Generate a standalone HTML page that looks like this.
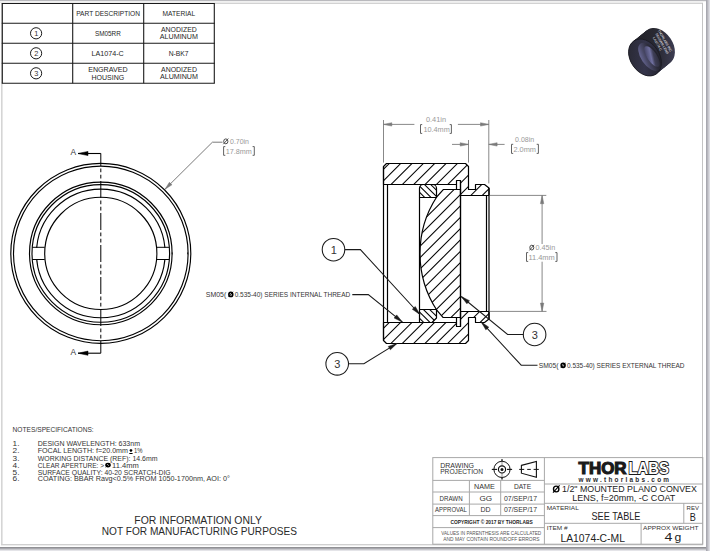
<!DOCTYPE html>
<html><head><meta charset="utf-8"><style>
html,body{margin:0;padding:0;background:#fff;width:710px;height:551px;overflow:hidden}
svg{display:block}
text{font-family:"Liberation Sans",sans-serif}
</style></head><body>
<svg width="710" height="551" viewBox="0 0 710 551">
<rect x="0" y="0" width="710" height="551" fill="#fff"/>
<rect x="0" y="0" width="710" height="1" fill="#b9b9bd"/>
<rect x="0" y="1" width="710" height="1" fill="#f0f0f0"/>
<rect x="0" y="2" width="703" height="1" fill="#ececec"/>
<rect x="1" y="3" width="702" height="1" fill="#d2d2d2"/>
<rect x="1" y="3" width="1" height="542" fill="#d5d5d5"/>
<rect x="2" y="3" width="1" height="542" fill="#e6e6e6"/>
<rect x="702" y="3" width="1" height="542" fill="#c4c4c4"/>
<rect x="1" y="544" width="702" height="1" fill="#d0d0d0"/>
<rect x="1" y="545" width="702" height="1" fill="#eeeeee"/>
<rect x="706" y="0" width="1" height="551" fill="#a8a8b0"/>
<rect x="707" y="0" width="1" height="551" fill="#b8b8be"/>
<rect x="708" y="0" width="1" height="551" fill="#cacad0"/>
<rect x="709" y="0" width="1" height="551" fill="#dcdce2"/>
<rect x="0" y="547" width="706" height="1" fill="#909094"/>
<rect x="0" y="548" width="706" height="1" fill="#a8a8ae"/>
<rect x="0" y="549" width="706" height="1" fill="#c8c8cc"/>
<rect x="0" y="550" width="706" height="1" fill="#e4e4e8"/>
<line x1="1.8" y1="3.5" x2="214.8" y2="3.5" stroke="#1a1a1a" stroke-width="1.1"/>
<line x1="1.8" y1="23.3" x2="214.8" y2="23.3" stroke="#1a1a1a" stroke-width="1.1"/>
<line x1="1.8" y1="43.2" x2="214.8" y2="43.2" stroke="#1a1a1a" stroke-width="1.1"/>
<line x1="1.8" y1="63.3" x2="214.8" y2="63.3" stroke="#1a1a1a" stroke-width="1.1"/>
<line x1="1.8" y1="83.2" x2="214.8" y2="83.2" stroke="#1a1a1a" stroke-width="1.1"/>
<line x1="2.3" y1="3.5" x2="2.3" y2="83.2" stroke="#1a1a1a" stroke-width="1.1"/>
<line x1="72.7" y1="3.5" x2="72.7" y2="83.2" stroke="#1a1a1a" stroke-width="1.1"/>
<line x1="143.7" y1="3.5" x2="143.7" y2="83.2" stroke="#1a1a1a" stroke-width="1.1"/>
<line x1="214.3" y1="3.5" x2="214.3" y2="83.2" stroke="#1a1a1a" stroke-width="1.1"/>
<text x="76.2" y="16.0" font-size="7.2" fill="#262626" font-weight="normal" textLength="63.8" lengthAdjust="spacingAndGlyphs" >PART DESCRIPTION</text>
<text x="162.5" y="16.0" font-size="7.2" fill="#262626" font-weight="normal" textLength="32.7" lengthAdjust="spacingAndGlyphs" >MATERIAL</text>
<text x="94.9" y="36.0" font-size="7.2" fill="#262626" font-weight="normal" textLength="25.9" lengthAdjust="spacingAndGlyphs" >SM05RR</text>
<text x="161" y="32.4" font-size="7.2" fill="#262626" font-weight="normal" textLength="35.8" lengthAdjust="spacingAndGlyphs" >ANODIZED</text>
<text x="159.8" y="39.2" font-size="7.2" fill="#262626" font-weight="normal" textLength="38.1" lengthAdjust="spacingAndGlyphs" >ALUMINUM</text>
<text x="91.5" y="56.0" font-size="7.2" fill="#262626" font-weight="normal" textLength="32.3" lengthAdjust="spacingAndGlyphs" >LA1074-C</text>
<text x="168.7" y="55.6" font-size="7.2" fill="#262626" font-weight="normal" textLength="19.8" lengthAdjust="spacingAndGlyphs" >N-BK7</text>
<text x="88.2" y="72.0" font-size="7.2" fill="#262626" font-weight="normal" textLength="39.4" lengthAdjust="spacingAndGlyphs" >ENGRAVED</text>
<text x="91.5" y="79.6" font-size="7.2" fill="#262626" font-weight="normal" textLength="32.7" lengthAdjust="spacingAndGlyphs" >HOUSING</text>
<text x="161" y="72.0" font-size="7.2" fill="#262626" font-weight="normal" textLength="35.9" lengthAdjust="spacingAndGlyphs" >ANODIZED</text>
<text x="159.9" y="79.4" font-size="7.2" fill="#262626" font-weight="normal" textLength="38.1" lengthAdjust="spacingAndGlyphs" >ALUMINUM</text>
<circle cx="36.1" cy="33.3" r="5.6" fill="none" stroke="#1a1a1a" stroke-width="1"/>
<text x="36.2" y="36.0" font-size="7.4" fill="#333" font-weight="normal" text-anchor="middle" >1</text>
<circle cx="36.1" cy="53.3" r="5.6" fill="none" stroke="#1a1a1a" stroke-width="1"/>
<text x="36.2" y="56.0" font-size="7.4" fill="#333" font-weight="normal" text-anchor="middle" >2</text>
<circle cx="36.1" cy="73.3" r="5.6" fill="none" stroke="#1a1a1a" stroke-width="1"/>
<text x="36.2" y="76.0" font-size="7.4" fill="#333" font-weight="normal" text-anchor="middle" >3</text>
<defs>
<linearGradient id="side3d" x1="0" y1="0" x2="1" y2="1">
<stop offset="0" stop-color="#222228"/><stop offset="0.5" stop-color="#2a2a34"/><stop offset="1" stop-color="#44445e"/>
</linearGradient>
<linearGradient id="face3d" x1="0" y1="0" x2="1" y2="1">
<stop offset="0" stop-color="#26262e"/><stop offset="0.5" stop-color="#34344a"/><stop offset="1" stop-color="#1c1c22"/>
</linearGradient>
<linearGradient id="open3d" x1="0" y1="0.3" x2="1" y2="0.7">
<stop offset="0" stop-color="#6a6a98"/><stop offset="0.3" stop-color="#484866"/><stop offset="0.65" stop-color="#2c2c3a"/><stop offset="1" stop-color="#1e1e26"/>
</linearGradient>
<linearGradient id="inner3d" x1="0" y1="0" x2="1" y2="1">
<stop offset="0" stop-color="#30304a"/><stop offset="0.45" stop-color="#7070a0"/><stop offset="0.6" stop-color="#3e3e56"/><stop offset="1" stop-color="#24242e"/>
</linearGradient>
<radialGradient id="lensg" cx="0.4" cy="0.5" r="0.6">
<stop offset="0" stop-color="#8a8ab8"/><stop offset="0.55" stop-color="#5c5c7a"/><stop offset="1" stop-color="#30303e"/>
</radialGradient>
</defs>
<ellipse cx="645.00" cy="57.50" rx="14.5" ry="20" transform="rotate(-34 645.00 57.50)" fill="url(#side3d)"/>
<ellipse cx="645.84" cy="56.81" rx="14.5" ry="20" transform="rotate(-34 645.84 56.81)" fill="url(#side3d)"/>
<ellipse cx="646.69" cy="56.12" rx="14.5" ry="20" transform="rotate(-34 646.69 56.12)" fill="url(#side3d)"/>
<ellipse cx="647.53" cy="55.44" rx="14.5" ry="20" transform="rotate(-34 647.53 55.44)" fill="url(#side3d)"/>
<ellipse cx="648.38" cy="54.75" rx="14.5" ry="20" transform="rotate(-34 648.38 54.75)" fill="url(#side3d)"/>
<ellipse cx="649.22" cy="54.06" rx="14.5" ry="20" transform="rotate(-34 649.22 54.06)" fill="url(#side3d)"/>
<ellipse cx="650.06" cy="53.38" rx="14.5" ry="20" transform="rotate(-34 650.06 53.38)" fill="url(#side3d)"/>
<ellipse cx="650.91" cy="52.69" rx="14.5" ry="20" transform="rotate(-34 650.91 52.69)" fill="url(#side3d)"/>
<ellipse cx="651.75" cy="52.00" rx="14.5" ry="20" transform="rotate(-34 651.75 52.00)" fill="url(#side3d)"/>
<ellipse cx="652.59" cy="51.31" rx="14.5" ry="20" transform="rotate(-34 652.59 51.31)" fill="url(#side3d)"/>
<ellipse cx="653.44" cy="50.62" rx="14.5" ry="20" transform="rotate(-34 653.44 50.62)" fill="url(#side3d)"/>
<ellipse cx="654.28" cy="49.94" rx="14.5" ry="20" transform="rotate(-34 654.28 49.94)" fill="url(#side3d)"/>
<ellipse cx="655.12" cy="49.25" rx="14.5" ry="20" transform="rotate(-34 655.12 49.25)" fill="url(#side3d)"/>
<ellipse cx="655.97" cy="48.56" rx="14.5" ry="20" transform="rotate(-34 655.97 48.56)" fill="url(#side3d)"/>
<ellipse cx="656.81" cy="47.88" rx="14.5" ry="20" transform="rotate(-34 656.81 47.88)" fill="url(#side3d)"/>
<ellipse cx="657.66" cy="47.19" rx="14.5" ry="20" transform="rotate(-34 657.66 47.19)" fill="url(#side3d)"/>
<ellipse cx="658.50" cy="46.50" rx="14.5" ry="20" transform="rotate(-34 658.50 46.50)" fill="url(#side3d)"/>
<ellipse cx="645" cy="57.5" rx="14.5" ry="20" transform="rotate(-34 645 57.5)" fill="url(#face3d)"/>
<ellipse cx="645" cy="57.5" rx="14.5" ry="20" transform="rotate(-34 645 57.5)" fill="none" stroke="#1a1a22" stroke-width="0.8"/>
<ellipse cx="649.5" cy="56.8" rx="8.3" ry="16" transform="rotate(-34 649.5 56.8)" fill="url(#open3d)"/>
<ellipse cx="652" cy="56.5" rx="4.8" ry="12" transform="rotate(-34 652 56.5)" fill="url(#inner3d)"/>
<g transform="translate(662,44) rotate(60)" fill="#ececf4" font-size="3.4">
<text x="-14" y="-3">THORLABS INC</text><text x="-12" y="1">SM05RR LENS</text><text x="-10" y="5">LA1074-C</text>
</g>
<circle cx="100.8" cy="253.4" r="90.0" fill="none" stroke="#000" stroke-width="1.15"/>
<circle cx="100.8" cy="253.4" r="87.3" fill="none" stroke="#000" stroke-width="1.15"/>
<circle cx="100.8" cy="253.4" r="71.3" fill="none" stroke="#000" stroke-width="1.15"/>
<circle cx="100.8" cy="253.4" r="68.8" fill="none" stroke="#000" stroke-width="1.15"/>
<circle cx="100.8" cy="253.4" r="64.3" fill="none" stroke="#000" stroke-width="1.15"/>
<circle cx="100.8" cy="253.4" r="56.1" fill="none" stroke="#000" stroke-width="1.15"/>
<rect x="33.400000000000006" y="247.8" width="10.1" height="11.2" fill="#fff" stroke="none"/>
<line x1="32.2" y1="247.3" x2="44.7" y2="247.3" stroke="#000" stroke-width="1"/>
<line x1="32.2" y1="259.5" x2="44.7" y2="259.5" stroke="#000" stroke-width="1"/>
<rect x="157.89999999999998" y="247.8" width="10.000000000000005" height="11.2" fill="#fff" stroke="none"/>
<line x1="156.7" y1="247.3" x2="169.1" y2="247.3" stroke="#000" stroke-width="1"/>
<line x1="156.7" y1="259.5" x2="169.1" y2="259.5" stroke="#000" stroke-width="1"/>
<line x1="172.1" y1="252.4" x2="172.1" y2="254.4" stroke="#000" stroke-width="0.8"/>
<line x1="187.6" y1="252.4" x2="187.6" y2="254.4" stroke="#000" stroke-width="0.8"/>
<line x1="100.8" y1="153.4" x2="100.8" y2="353.2" stroke="#000" stroke-width="1" stroke-dasharray="17 2.5 3.75 2.5 3.75 2.5" stroke-dashoffset="4.4"/>
<line x1="78" y1="153.5" x2="100.8" y2="153.5" stroke="#000" stroke-width="1.1"/>
<line x1="78" y1="353.2" x2="100.8" y2="353.2" stroke="#000" stroke-width="1.1"/>
<polygon points="78.00,153.50 88.00,151.40 88.00,155.60" fill="#000" stroke="#000" stroke-width="0.5" stroke-linejoin="round"/>
<polygon points="78.00,353.20 88.00,351.10 88.00,355.30" fill="#000" stroke="#000" stroke-width="0.5" stroke-linejoin="round"/>
<text x="73.2" y="155.2" font-size="8.4" fill="#333" font-weight="normal" text-anchor="middle" >A</text>
<text x="73.2" y="354.9" font-size="8.4" fill="#333" font-weight="normal" text-anchor="middle" >A</text>
<polyline points="222.5,142.2 212.4,142.2 165,189.2" fill="none" stroke="#7a7a7a" stroke-width="1"/>
<polygon points="165.00,189.20 169.41,182.29 171.95,184.85" fill="#7a7a7a" stroke="#7a7a7a" stroke-width="0.5" stroke-linejoin="round"/>
<ellipse cx="225.80" cy="141.35" rx="2.10" ry="2.45" fill="none" stroke="#4a4a4a" stroke-width="1.0"/>
<line x1="223.30" y1="144.20" x2="228.30" y2="138.50" stroke="#4a4a4a" stroke-width="0.9"/>
<text x="230.0" y="143.7" font-size="6.9" fill="#999" font-weight="normal" textLength="19.0" lengthAdjust="spacingAndGlyphs" >0.70in</text>
<path d="M 225.29999999999998,146.6 L 223.6,146.6 L 223.6,155.3 L 225.29999999999998,155.3 M 252.60000000000002,146.6 L 254.3,146.6 L 254.3,155.3 L 252.60000000000002,155.3" fill="none" stroke="#5a5a5a" stroke-width="0.95"/>
<text x="225.8" y="153.5" font-size="6.9" fill="#999" font-weight="normal" textLength="26.1" lengthAdjust="spacingAndGlyphs" >17.8mm</text>
<defs>
<clipPath id="cH"><path d="M 383.5,166.5 L 386.5,163.5 L 465.5,163.5 L 468.5,166.5 L 468.5,189.5 L 475.5,189.5 L 475.5,184.5 L 484.5,184.5 L 489,188.0 L 489,195.5 L 460.5,195.5 L 460.5,180.5 L 456.5,180.5 L 456.5,184.5 L 383.5,184.5 Z M 383.5,340.5 L 386.5,343.5 L 465.5,343.5 L 468.5,340.5 L 468.5,317.5 L 475.5,317.5 L 475.5,322.5 L 484.5,322.5 L 489,319.0 L 489,311.5 L 460.5,311.5 L 460.5,326.5 L 456.5,326.5 L 456.5,322.5 L 383.5,322.5 Z"/></clipPath>
<clipPath id="cR"><path d="M 419.5,197.5 L 419.5,188.3 A 3.8 3.8 0 0 1 423.3,184.5 L 432.7,184.5 A 3.8 3.8 0 0 1 436.5,188.3 L 436.5,197.5 Z M 419.5,309.5 L 419.5,322.5 L 432.0,322.5 L 436.5,318.0 L 436.5,309.5 Z"/></clipPath>
<clipPath id="cL"><path d="M 460.5,189.5 L 443.3,189.5 L 437.0,196.5 A 104.06 104.06 0 0 0 437.0,310.5 L 443.0,317.5 L 460.5,317.5 Z"/></clipPath>
</defs>
<g clip-path="url(#cH)" stroke="#000" stroke-width="1.05">
<line x1="183.10" y1="347" x2="370.10" y2="160"/>
<line x1="194.45" y1="347" x2="381.45" y2="160"/>
<line x1="205.80" y1="347" x2="392.80" y2="160"/>
<line x1="217.15" y1="347" x2="404.15" y2="160"/>
<line x1="228.50" y1="347" x2="415.50" y2="160"/>
<line x1="239.85" y1="347" x2="426.85" y2="160"/>
<line x1="251.20" y1="347" x2="438.20" y2="160"/>
<line x1="262.55" y1="347" x2="449.55" y2="160"/>
<line x1="273.90" y1="347" x2="460.90" y2="160"/>
<line x1="285.25" y1="347" x2="472.25" y2="160"/>
<line x1="296.60" y1="347" x2="483.60" y2="160"/>
<line x1="307.95" y1="347" x2="494.95" y2="160"/>
<line x1="319.30" y1="347" x2="506.30" y2="160"/>
<line x1="330.65" y1="347" x2="517.65" y2="160"/>
<line x1="342.00" y1="347" x2="529.00" y2="160"/>
<line x1="353.35" y1="347" x2="540.35" y2="160"/>
<line x1="364.70" y1="347" x2="551.70" y2="160"/>
<line x1="376.05" y1="347" x2="563.05" y2="160"/>
<line x1="387.40" y1="347" x2="574.40" y2="160"/>
<line x1="398.75" y1="347" x2="585.75" y2="160"/>
<line x1="410.10" y1="347" x2="597.10" y2="160"/>
<line x1="421.45" y1="347" x2="608.45" y2="160"/>
<line x1="432.80" y1="347" x2="619.80" y2="160"/>
<line x1="444.15" y1="347" x2="631.15" y2="160"/>
<line x1="455.50" y1="347" x2="642.50" y2="160"/>
<line x1="466.85" y1="347" x2="653.85" y2="160"/>
<line x1="478.20" y1="347" x2="665.20" y2="160"/>
<line x1="489.55" y1="347" x2="676.55" y2="160"/>
<line x1="500.90" y1="347" x2="687.90" y2="160"/>
</g>
<g clip-path="url(#cL)" stroke="#000" stroke-width="1.05">
<line x1="278.20" y1="320" x2="412.20" y2="186"/>
<line x1="289.55" y1="320" x2="423.55" y2="186"/>
<line x1="300.90" y1="320" x2="434.90" y2="186"/>
<line x1="312.25" y1="320" x2="446.25" y2="186"/>
<line x1="323.60" y1="320" x2="457.60" y2="186"/>
<line x1="334.95" y1="320" x2="468.95" y2="186"/>
<line x1="346.30" y1="320" x2="480.30" y2="186"/>
<line x1="357.65" y1="320" x2="491.65" y2="186"/>
<line x1="369.00" y1="320" x2="503.00" y2="186"/>
<line x1="380.35" y1="320" x2="514.35" y2="186"/>
<line x1="391.70" y1="320" x2="525.70" y2="186"/>
<line x1="403.05" y1="320" x2="537.05" y2="186"/>
<line x1="414.40" y1="320" x2="548.40" y2="186"/>
<line x1="425.75" y1="320" x2="559.75" y2="186"/>
<line x1="437.10" y1="320" x2="571.10" y2="186"/>
<line x1="448.45" y1="320" x2="582.45" y2="186"/>
<line x1="459.80" y1="320" x2="593.80" y2="186"/>
<line x1="471.15" y1="320" x2="605.15" y2="186"/>
</g>
<g clip-path="url(#cR)" stroke="#000" stroke-width="1.05">
<line x1="445.10" y1="180" x2="591.10" y2="326"/>
<line x1="438.80" y1="180" x2="584.80" y2="326"/>
<line x1="432.50" y1="180" x2="578.50" y2="326"/>
<line x1="426.20" y1="180" x2="572.20" y2="326"/>
<line x1="419.90" y1="180" x2="565.90" y2="326"/>
<line x1="413.60" y1="180" x2="559.60" y2="326"/>
<line x1="407.30" y1="180" x2="553.30" y2="326"/>
<line x1="401.00" y1="180" x2="547.00" y2="326"/>
<line x1="394.70" y1="180" x2="540.70" y2="326"/>
<line x1="388.40" y1="180" x2="534.40" y2="326"/>
<line x1="382.10" y1="180" x2="528.10" y2="326"/>
<line x1="375.80" y1="180" x2="521.80" y2="326"/>
<line x1="369.50" y1="180" x2="515.50" y2="326"/>
<line x1="363.20" y1="180" x2="509.20" y2="326"/>
<line x1="356.90" y1="180" x2="502.90" y2="326"/>
<line x1="350.60" y1="180" x2="496.60" y2="326"/>
<line x1="344.30" y1="180" x2="490.30" y2="326"/>
<line x1="338.00" y1="180" x2="484.00" y2="326"/>
<line x1="331.70" y1="180" x2="477.70" y2="326"/>
<line x1="325.40" y1="180" x2="471.40" y2="326"/>
<line x1="319.10" y1="180" x2="465.10" y2="326"/>
<line x1="312.80" y1="180" x2="458.80" y2="326"/>
<line x1="306.50" y1="180" x2="452.50" y2="326"/>
<line x1="300.20" y1="180" x2="446.20" y2="326"/>
<line x1="293.90" y1="180" x2="439.90" y2="326"/>
<line x1="287.60" y1="180" x2="433.60" y2="326"/>
<line x1="281.30" y1="180" x2="427.30" y2="326"/>
<line x1="275.00" y1="180" x2="421.00" y2="326"/>
<line x1="268.70" y1="180" x2="414.70" y2="326"/>
</g>
<path d="M 383.5,166.5 L 386.5,163.5 L 465.5,163.5 L 468.5,166.5 L 468.5,189.5 L 475.5,189.5 L 475.5,184.5 L 484.5,184.5 L 489,188.0 L 489,195.5 L 460.5,195.5 L 460.5,180.5 L 456.5,180.5 L 456.5,184.5 L 383.5,184.5 Z" fill="none" stroke="#000" stroke-width="1.2" stroke-linejoin="round"/>
<path d="M 383.5,340.5 L 386.5,343.5 L 465.5,343.5 L 468.5,340.5 L 468.5,317.5 L 475.5,317.5 L 475.5,322.5 L 484.5,322.5 L 489,319.0 L 489,311.5 L 460.5,311.5 L 460.5,326.5 L 456.5,326.5 L 456.5,322.5 L 383.5,322.5 Z" fill="none" stroke="#000" stroke-width="1.2" stroke-linejoin="round"/>
<path d="M 419.5,197.5 L 419.5,188.3 A 3.8 3.8 0 0 1 423.3,184.5 L 432.7,184.5 A 3.8 3.8 0 0 1 436.5,188.3 L 436.5,197.5 Z" fill="none" stroke="#000" stroke-width="1.2" stroke-linejoin="round"/>
<path d="M 419.5,309.5 L 419.5,322.5 L 432.0,322.5 L 436.5,318.0 L 436.5,309.5 Z" fill="none" stroke="#000" stroke-width="1.2" stroke-linejoin="round"/>
<path d="M 460.5,189.5 L 443.3,189.5 L 437.0,196.5 A 104.06 104.06 0 0 0 437.0,310.5 L 443.0,317.5 L 460.5,317.5 Z" fill="none" stroke="#000" stroke-width="1.2"/>
<line x1="383.5" y1="166.5" x2="383.5" y2="340.5" stroke="#000" stroke-width="1.2"/>
<line x1="387.5" y1="184.5" x2="387.5" y2="322.5" stroke="#000" stroke-width="1.2"/>
<line x1="419.5" y1="197.5" x2="419.5" y2="309.5" stroke="#000" stroke-width="1.2"/>
<line x1="460.5" y1="180.5" x2="460.5" y2="326.5" stroke="#000" stroke-width="1.2"/>
<line x1="456.5" y1="184.5" x2="456.5" y2="189.5" stroke="#000" stroke-width="1.2"/>
<line x1="456.5" y1="322.5" x2="456.5" y2="317.5" stroke="#000" stroke-width="1.2"/>
<line x1="486.5" y1="195.5" x2="486.5" y2="311.5" stroke="#000" stroke-width="1.2"/>
<line x1="489.0" y1="188.0" x2="489.0" y2="319.0" stroke="#000" stroke-width="1.2"/>
<line x1="383.5" y1="120.0" x2="383.5" y2="162.6" stroke="#7a7a7a" stroke-width="0.9"/>
<line x1="488.8" y1="120.0" x2="488.8" y2="183.4" stroke="#7a7a7a" stroke-width="0.9"/>
<line x1="383.5" y1="124.4" x2="414.4" y2="124.4" stroke="#7a7a7a" stroke-width="0.9"/>
<line x1="457.9" y1="124.4" x2="488.8" y2="124.4" stroke="#7a7a7a" stroke-width="0.9"/>
<polygon points="383.50,124.40 391.80,122.70 391.80,126.10" fill="#7a7a7a" stroke="#7a7a7a" stroke-width="0.5" stroke-linejoin="round"/>
<polygon points="488.80,124.40 480.50,126.10 480.50,122.70" fill="#7a7a7a" stroke="#7a7a7a" stroke-width="0.5" stroke-linejoin="round"/>
<text x="425.9" y="121.7" font-size="6.9" fill="#999" font-weight="normal" textLength="20.1" lengthAdjust="spacingAndGlyphs" >0.41in</text>
<path d="M 422.2,124.6 L 420.5,124.6 L 420.5,133.4 L 422.2,133.4 M 449.7,124.6 L 451.4,124.6 L 451.4,133.4 L 449.7,133.4" fill="none" stroke="#5a5a5a" stroke-width="0.95"/>
<text x="423.4" y="131.6" font-size="6.9" fill="#999" font-weight="normal" textLength="26.4" lengthAdjust="spacingAndGlyphs" >10.4mm</text>
<line x1="468.5" y1="140.0" x2="468.5" y2="162.6" stroke="#7a7a7a" stroke-width="0.9"/>
<line x1="452.0" y1="144.4" x2="468.5" y2="144.4" stroke="#7a7a7a" stroke-width="0.9"/>
<line x1="488.8" y1="144.4" x2="504.6" y2="144.4" stroke="#7a7a7a" stroke-width="0.9"/>
<polygon points="468.50,144.40 460.20,146.10 460.20,142.70" fill="#7a7a7a" stroke="#7a7a7a" stroke-width="0.5" stroke-linejoin="round"/>
<polygon points="488.80,144.40 497.10,142.70 497.10,146.10" fill="#7a7a7a" stroke="#7a7a7a" stroke-width="0.5" stroke-linejoin="round"/>
<text x="515.1" y="141.7" font-size="6.9" fill="#999" font-weight="normal" textLength="19.1" lengthAdjust="spacingAndGlyphs" >0.08in</text>
<path d="M 513.2,144.3 L 511.5,144.3 L 511.5,153.4 L 513.2,153.4 M 536.6999999999999,144.3 L 538.4,144.3 L 538.4,153.4 L 536.6999999999999,153.4" fill="none" stroke="#5a5a5a" stroke-width="0.95"/>
<text x="513.4" y="151.6" font-size="6.9" fill="#999" font-weight="normal" textLength="22.6" lengthAdjust="spacingAndGlyphs" >2.0mm</text>
<line x1="489.5" y1="195.4" x2="546.3" y2="195.4" stroke="#7a7a7a" stroke-width="0.9"/>
<line x1="489.5" y1="311.4" x2="546.5" y2="311.4" stroke="#7a7a7a" stroke-width="0.9"/>
<line x1="542.1" y1="195.4" x2="542.1" y2="244.0" stroke="#7a7a7a" stroke-width="0.9"/>
<line x1="542.1" y1="261.7" x2="542.1" y2="311.4" stroke="#7a7a7a" stroke-width="0.9"/>
<polygon points="542.10,195.40 543.80,203.70 540.40,203.70" fill="#7a7a7a" stroke="#7a7a7a" stroke-width="0.5" stroke-linejoin="round"/>
<polygon points="542.10,311.40 540.40,303.10 543.80,303.10" fill="#7a7a7a" stroke="#7a7a7a" stroke-width="0.5" stroke-linejoin="round"/>
<ellipse cx="531.80" cy="247.60" rx="2.00" ry="2.40" fill="none" stroke="#4a4a4a" stroke-width="1.0"/>
<line x1="529.40" y1="250.40" x2="534.20" y2="244.80" stroke="#4a4a4a" stroke-width="0.9"/>
<text x="535.5" y="249.8" font-size="6.9" fill="#999" font-weight="normal" textLength="19.7" lengthAdjust="spacingAndGlyphs" >0.45in</text>
<path d="M 528.2,252.6 L 526.5,252.6 L 526.5,261.4 L 528.2,261.4 M 555.3,252.6 L 557.0,252.6 L 557.0,261.4 L 555.3,261.4" fill="none" stroke="#5a5a5a" stroke-width="0.95"/>
<text x="528.4" y="259.6" font-size="6.9" fill="#999" font-weight="normal" textLength="26.4" lengthAdjust="spacingAndGlyphs" >11.4mm</text>
<circle cx="333.5" cy="249.7" r="11.3" fill="none" stroke="#1a1a1a" stroke-width="1.05"/>
<text x="333.7" y="253.7" font-size="11" fill="#333" font-weight="normal" text-anchor="middle" >1</text>
<polyline points="344.8,249.6 360.4,249.6 419.9,314.5" fill="none" stroke="#1a1a1a" stroke-width="1.05"/>
<polygon points="419.90,314.50 412.34,309.22 415.29,306.51" fill="#1a1a1a" stroke="#1a1a1a" stroke-width="0.5" stroke-linejoin="round"/>
<text x="205.8" y="297.0" font-size="8" fill="#333" font-weight="normal" textLength="20.4" lengthAdjust="spacingAndGlyphs" >SM05(</text>
<ellipse cx="230.80" cy="294.40" rx="1.90" ry="2.10" fill="none" stroke="#000" stroke-width="1.7"/>
<line x1="228.60" y1="297.00" x2="233.00" y2="291.80" stroke="#000" stroke-width="1.0"/>
<text x="234.7" y="297.0" font-size="8" fill="#333" font-weight="normal" textLength="115.5" lengthAdjust="spacingAndGlyphs" >0.535-40) SERIES INTERNAL THREAD</text>
<polyline points="352.3,294.6 368.3,294.6 402.4,322.1" fill="none" stroke="#1a1a1a" stroke-width="1.05"/>
<polygon points="402.40,322.10 394.14,318.01 396.65,314.89" fill="#1a1a1a" stroke="#1a1a1a" stroke-width="0.5" stroke-linejoin="round"/>
<circle cx="337.2" cy="363.8" r="11.3" fill="none" stroke="#1a1a1a" stroke-width="1.05"/>
<text x="337.4" y="367.8" font-size="11" fill="#333" font-weight="normal" text-anchor="middle" >3</text>
<polyline points="348.5,363.8 363.9,363.8 397.0,343.4" fill="none" stroke="#1a1a1a" stroke-width="1.05"/>
<polygon points="397.00,343.40 390.39,349.82 388.29,346.42" fill="#1a1a1a" stroke="#1a1a1a" stroke-width="0.5" stroke-linejoin="round"/>
<circle cx="534.6" cy="334.5" r="11.3" fill="none" stroke="#1a1a1a" stroke-width="1.05"/>
<text x="534.8000000000001" y="338.5" font-size="11" fill="#333" font-weight="normal" text-anchor="middle" >3</text>
<polyline points="523.3,334.5 507.6,334.5 461.2,296.5" fill="none" stroke="#1a1a1a" stroke-width="1.05"/>
<polygon points="461.20,296.50 469.43,300.66 466.90,303.75" fill="#1a1a1a" stroke="#1a1a1a" stroke-width="0.5" stroke-linejoin="round"/>
<text x="538.8" y="368.4" font-size="8" fill="#333" font-weight="normal" textLength="19.7" lengthAdjust="spacingAndGlyphs" >SM05(</text>
<ellipse cx="563.10" cy="365.30" rx="1.90" ry="2.00" fill="none" stroke="#000" stroke-width="1.7"/>
<line x1="560.90" y1="367.80" x2="565.30" y2="362.80" stroke="#000" stroke-width="1.0"/>
<text x="567.0" y="368.4" font-size="8" fill="#333" font-weight="normal" textLength="117.5" lengthAdjust="spacingAndGlyphs" >0.535-40) SERIES EXTERNAL THREAD</text>
<polyline points="537.5,365.2 521.2,365.2 481.2,321.9" fill="none" stroke="#1a1a1a" stroke-width="1.05"/>
<polygon points="481.20,321.90 488.78,327.15 485.84,329.87" fill="#1a1a1a" stroke="#1a1a1a" stroke-width="0.5" stroke-linejoin="round"/>
<text x="12.6" y="432.0" font-size="7.6" fill="#333" font-weight="normal" textLength="81.1" lengthAdjust="spacingAndGlyphs" >NOTES/SPECIFICATIONS:</text>
<text x="12.6" y="446.0" font-size="7.6" fill="#333" font-weight="normal" textLength="6.9" lengthAdjust="spacingAndGlyphs" >1.</text>
<text x="37.7" y="446.0" font-size="7.6" fill="#333" font-weight="normal" textLength="102.3" lengthAdjust="spacingAndGlyphs" >DESIGN WAVELENGTH: 633nm</text>
<text x="12.6" y="452.9" font-size="7.6" fill="#333" font-weight="normal" textLength="6.9" lengthAdjust="spacingAndGlyphs" >2.</text>
<text x="12.6" y="460.6" font-size="7.6" fill="#333" font-weight="normal" textLength="6.9" lengthAdjust="spacingAndGlyphs" >3.</text>
<text x="37.7" y="460.6" font-size="7.6" fill="#333" font-weight="normal" textLength="119.8" lengthAdjust="spacingAndGlyphs" >WORKING DISTANCE (REF): 14.6mm</text>
<text x="12.6" y="467.9" font-size="7.6" fill="#333" font-weight="normal" textLength="6.9" lengthAdjust="spacingAndGlyphs" >4.</text>
<text x="12.6" y="474.7" font-size="7.6" fill="#333" font-weight="normal" textLength="6.9" lengthAdjust="spacingAndGlyphs" >5.</text>
<text x="37.7" y="474.7" font-size="7.6" fill="#333" font-weight="normal" textLength="133.0" lengthAdjust="spacingAndGlyphs" >SURFACE QUALITY: 40-20 SCRATCH-DIG</text>
<text x="12.6" y="481.3" font-size="7.6" fill="#333" font-weight="normal" textLength="6.9" lengthAdjust="spacingAndGlyphs" >6.</text>
<text x="37.7" y="481.3" font-size="7.6" fill="#333" font-weight="normal" textLength="192.2" lengthAdjust="spacingAndGlyphs" >COATING: BBAR Ravg&lt;0.5% FROM 1050-1700nm, AOI: 0&#176;</text>
<text x="37.7" y="452.9" font-size="7.6" fill="#333" font-weight="normal" textLength="90.3" lengthAdjust="spacingAndGlyphs" >FOCAL LENGTH: f=20.0mm</text>
<line x1="129.3" y1="453.5" x2="132.6" y2="453.5" stroke="#000" stroke-width="1.0"/>
<line x1="129.6" y1="450.4" x2="132.3" y2="450.4" stroke="#000" stroke-width="1.3"/>
<line x1="130.95" y1="448.9" x2="130.95" y2="451.9" stroke="#000" stroke-width="1.3"/>
<text x="134.0" y="452.9" font-size="7.6" fill="#333" font-weight="normal" textLength="8.5" lengthAdjust="spacingAndGlyphs" >1%</text>
<text x="37.7" y="467.9" font-size="7.6" fill="#333" font-weight="normal" textLength="66.3" lengthAdjust="spacingAndGlyphs" >CLEAR APERTURE: &gt;</text>
<ellipse cx="108.00" cy="465.10" rx="2.00" ry="1.60" fill="none" stroke="#000" stroke-width="1.7"/>
<line x1="105.70" y1="467.20" x2="110.30" y2="463.00" stroke="#000" stroke-width="1.0"/>
<text x="112.1" y="467.9" font-size="7.6" fill="#333" font-weight="normal" textLength="26.7" lengthAdjust="spacingAndGlyphs" >11.4mm</text>
<text x="134.3" y="524.0" font-size="10.8" fill="#2a2a2a" font-weight="normal" textLength="127.7" lengthAdjust="spacingAndGlyphs" >FOR INFORMATION ONLY</text>
<text x="101.8" y="535.2" font-size="10.8" fill="#2a2a2a" font-weight="normal" textLength="195.2" lengthAdjust="spacingAndGlyphs" >NOT FOR MANUFACTURING PURPOSES</text>
<rect x="432.8" y="457.6" width="270" height="86.6" fill="none" stroke="#a8a8a8" stroke-width="1"/>
<line x1="544.4" y1="457.6" x2="544.4" y2="544.2" stroke="#a8a8a8" stroke-width="1"/>
<line x1="432.8" y1="480.4" x2="544.4" y2="480.4" stroke="#a8a8a8" stroke-width="1"/>
<line x1="432.8" y1="492.0" x2="544.4" y2="492.0" stroke="#a8a8a8" stroke-width="1"/>
<line x1="432.8" y1="504.1" x2="544.4" y2="504.1" stroke="#a8a8a8" stroke-width="1"/>
<line x1="432.8" y1="515.6" x2="544.4" y2="515.6" stroke="#a8a8a8" stroke-width="1"/>
<line x1="432.8" y1="527.6" x2="544.4" y2="527.6" stroke="#a8a8a8" stroke-width="1"/>
<line x1="469.4" y1="480.4" x2="469.4" y2="515.6" stroke="#a8a8a8" stroke-width="1"/>
<line x1="500.7" y1="480.4" x2="500.7" y2="515.6" stroke="#a8a8a8" stroke-width="1"/>
<line x1="544.4" y1="484.0" x2="702.8" y2="484.0" stroke="#a8a8a8" stroke-width="1"/>
<line x1="544.4" y1="503.3" x2="702.8" y2="503.3" stroke="#a8a8a8" stroke-width="1"/>
<line x1="544.4" y1="523.3" x2="702.8" y2="523.3" stroke="#a8a8a8" stroke-width="1"/>
<line x1="683.8" y1="503.3" x2="683.8" y2="523.3" stroke="#a8a8a8" stroke-width="1"/>
<line x1="641.1" y1="523.3" x2="641.1" y2="544.2" stroke="#a8a8a8" stroke-width="1"/>
<text x="440.2" y="467.6" font-size="6.4" fill="#333" font-weight="normal" textLength="33.8" lengthAdjust="spacingAndGlyphs" >DRAWING</text>
<text x="440.2" y="474.4" font-size="6.4" fill="#333" font-weight="normal" textLength="42.8" lengthAdjust="spacingAndGlyphs" >PROJECTION</text>
<circle cx="502" cy="469.4" r="8.1" fill="none" stroke="#111" stroke-width="1"/>
<line x1="502" y1="459.2" x2="502" y2="479.2" stroke="#8a8a8a" stroke-width="0.9"/>
<line x1="502" y1="459.2" x2="502" y2="461.8" stroke="#111" stroke-width="1.2"/>
<line x1="502" y1="477.0" x2="502" y2="479.4" stroke="#111" stroke-width="1.2"/>
<circle cx="502" cy="469.4" r="3.6" fill="#fff" stroke="#111" stroke-width="1.2"/>
<circle cx="502" cy="469.4" r="1.5" fill="#111"/>
<line x1="491.8" y1="469.4" x2="497.0" y2="469.4" stroke="#111" stroke-width="1.1"/>
<line x1="507.0" y1="469.4" x2="512.1" y2="469.4" stroke="#111" stroke-width="1.1"/>
<polygon points="521.4,465.4 536.4,461.4 536.4,477.2 521.4,473.2" fill="none" stroke="#111" stroke-width="1.1"/>
<line x1="519.2" y1="469.4" x2="538.8" y2="469.4" stroke="#111" stroke-width="1.0" stroke-dasharray="5 3 3.6 2.8 5.2 10"/>
<text x="474.0" y="489.2" font-size="6.4" fill="#333" font-weight="normal" textLength="20.8" lengthAdjust="spacingAndGlyphs" >NAME</text>
<text x="513.9" y="489.2" font-size="6.4" fill="#333" font-weight="normal" textLength="17.2" lengthAdjust="spacingAndGlyphs" >DATE</text>
<text x="439.5" y="501.0" font-size="6.4" fill="#333" font-weight="normal" textLength="23.1" lengthAdjust="spacingAndGlyphs" >DRAWN</text>
<text x="479.5" y="501.0" font-size="7.4" fill="#333" font-weight="normal" textLength="12.7" lengthAdjust="spacingAndGlyphs" >GG</text>
<text x="504.0" y="501.0" font-size="7.0" fill="#333" font-weight="normal" textLength="33.0" lengthAdjust="spacingAndGlyphs" >07/SEP/17</text>
<text x="435.1" y="512.3" font-size="6.4" fill="#333" font-weight="normal" textLength="31.8" lengthAdjust="spacingAndGlyphs" >APPROVAL</text>
<text x="480.4" y="512.3" font-size="7.4" fill="#333" font-weight="normal" textLength="10.1" lengthAdjust="spacingAndGlyphs" >DD</text>
<text x="504.0" y="512.3" font-size="7.0" fill="#333" font-weight="normal" textLength="33.0" lengthAdjust="spacingAndGlyphs" >07/SEP/17</text>
<text x="450.5" y="523.8" font-size="5.6" fill="#222" font-weight="bold" textLength="82.3" lengthAdjust="spacingAndGlyphs" >COPYRIGHT &#169; 2017 BY THORLABS</text>
<text x="441.2" y="534.9" font-size="5.0" fill="#555" font-weight="normal" textLength="100.0" lengthAdjust="spacingAndGlyphs" >VALUES IN PARENTHESIS ARE CALCULATED</text>
<text x="443.2" y="540.8" font-size="5.0" fill="#555" font-weight="normal" textLength="96.3" lengthAdjust="spacingAndGlyphs" >AND MAY CONTAIN ROUNDOFF ERRORS</text>
<text x="578.6" y="474.0" font-size="17" font-weight="bold" fill="#1a1a1a" stroke="#1a1a1a" stroke-width="1.2" textLength="48" lengthAdjust="spacingAndGlyphs">THOR</text>
<text x="628.4" y="474.0" font-size="17" font-weight="bold" fill="#fff" stroke="#1a1a1a" stroke-width="1.9" textLength="40.6" lengthAdjust="spacingAndGlyphs">LABS</text>
<text x="628.4" y="474.0" font-size="17" font-weight="bold" fill="#fff" textLength="40.6" lengthAdjust="spacingAndGlyphs">LABS</text>
<text x="578.5" y="482.0" font-size="6.4" font-weight="bold" fill="#2a2a2a" textLength="90.5" lengthAdjust="spacing">www.thorlabs.com</text>
<ellipse cx="556.2" cy="489.0" rx="2.7" ry="2.9" fill="none" stroke="#000" stroke-width="1.4"/>
<line x1="553.0" y1="492.6" x2="559.6" y2="485.3" stroke="#000" stroke-width="1.1"/>
<text x="562.0" y="491.7" font-size="9.4" fill="#222" font-weight="normal" textLength="134.9" lengthAdjust="spacingAndGlyphs" >1/2" MOUNTED PLANO CONVEX</text>
<text x="572.3" y="500.6" font-size="9.4" fill="#222" font-weight="normal" textLength="103.0" lengthAdjust="spacingAndGlyphs" >LENS, f=20mm, -C COAT</text>
<text x="546.7" y="509.6" font-size="6.0" fill="#333" font-weight="normal" textLength="32.1" lengthAdjust="spacingAndGlyphs" >MATERIAL</text>
<text x="591.5" y="519.9" font-size="11.0" fill="#222" font-weight="normal" textLength="48.9" lengthAdjust="spacingAndGlyphs" >SEE TABLE</text>
<text x="686.6" y="510.4" font-size="6.2" fill="#333" font-weight="normal" textLength="12.4" lengthAdjust="spacingAndGlyphs" >REV</text>
<text x="689.7" y="520.8" font-size="10.5" fill="#222" font-weight="normal" textLength="6.1" lengthAdjust="spacingAndGlyphs" >B</text>
<text x="546.7" y="530.2" font-size="6.0" fill="#333" font-weight="normal" textLength="20.8" lengthAdjust="spacingAndGlyphs" >ITEM #</text>
<text x="560.4" y="541.5" font-size="11.2" fill="#222" font-weight="normal" textLength="64.6" lengthAdjust="spacingAndGlyphs" >LA1074-C-ML</text>
<text x="643.0" y="530.2" font-size="6.2" fill="#333" font-weight="normal" textLength="55.5" lengthAdjust="spacingAndGlyphs" >APPROX WEIGHT</text>
<text x="664.4" y="541.3" font-size="11.0" fill="#222" font-weight="normal" textLength="7.9" lengthAdjust="spacingAndGlyphs" >4</text>
<text x="674.6" y="541.3" font-size="11.0" fill="#222" font-weight="normal" textLength="6.8" lengthAdjust="spacingAndGlyphs" >g</text>
</svg></body></html>
